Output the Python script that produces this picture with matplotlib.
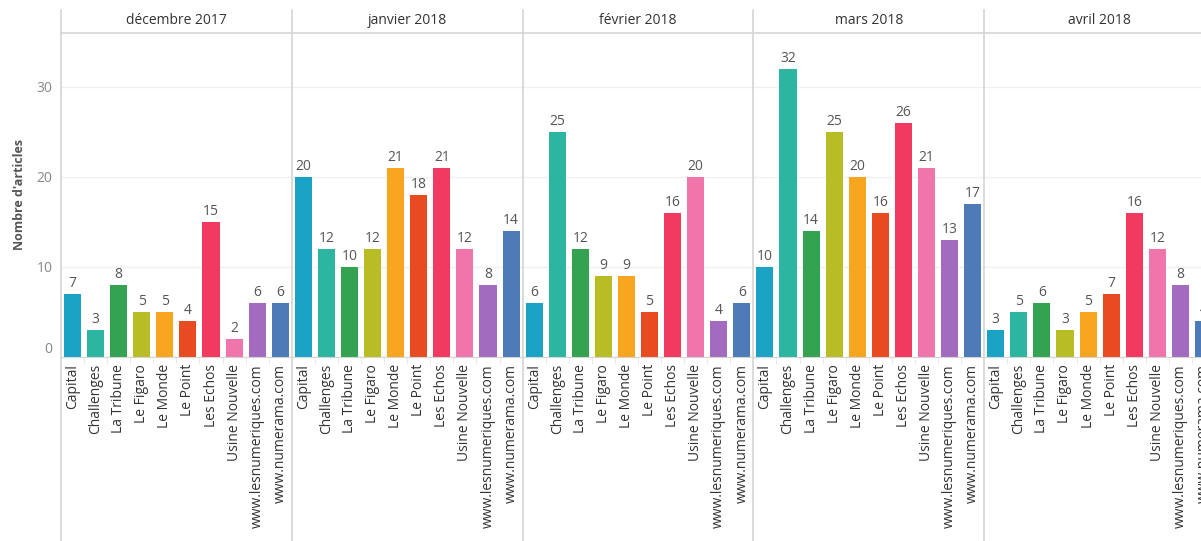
import numpy as np
import matplotlib
matplotlib.use('Agg')
import matplotlib.pyplot as plt
from matplotlib.lines import Line2D

plt.rcParams['font.family'] = ['Open Sans', 'DejaVu Sans']

# data
months = ['décembre 2017', 'janvier 2018', 'février 2018', 'mars 2018', 'avril 2018']
sources = ['Capital', 'Challenges', 'La Tribune', 'Le Figaro', 'Le Monde', 'Le Point',
           'Les Echos', 'Usine Nouvelle', 'www.lesnumeriques.com', 'www.numerama.com']
dec_2017 = [7, 3, 8, 5, 5, 4, 15, 2, 6, 6]
jan_2018 = [20, 12, 10, 12, 21, 18, 21, 12, 8, 14]
feb_2018 = [6, 25, 12, 9, 9, 5, 16, 20, 4, 6]
mar_2018 = [10, 32, 14, 25, 20, 16, 26, 21, 13, 17]
apr_2018 = [3, 5, 6, 3, 5, 7, 16, 12, 8, 4]
counts = [dec_2017, jan_2018, feb_2018, mar_2018, apr_2018]

colors = ['#1ba3c6', '#2cb5a0', '#33a352', '#b9bd25', '#f8a51f', '#e84a22',
          '#f2395f', '#f075ab', '#a36bbf', '#4c7bb8']

W, H = 1201, 541
fig = plt.figure(figsize=(W / 100, H / 100), dpi=100)

x0 = 61        # left edge of first panel (px)
pw = 230.8     # panel width (px)
y_zero = 357   # baseline (px from top)
y_top = 33     # header line (px from top)
grid_c = '#d4d4d4'

x = np.arange(len(sources))
axes = []
for i, (m, vals) in enumerate(zip(months, counts)):
    left = (x0 + i * pw) / W
    ax = fig.add_axes([left, (H - y_zero) / H, pw / W, (y_zero - y_top) / H])
    bars = ax.bar(x, vals, width=0.74, color=colors)
    ax.bar_label(bars, padding=2, fontsize=10, color='#555555')
    ax.set_xlim(-0.5, len(sources) - 0.5)
    ax.set_ylim(0, 36)
    ax.set_yticks([0, 10, 20, 30])
    ax.grid(axis='y', color='#f0f0f0', linewidth=1)
    ax.set_axisbelow(True)
    for s in ['top', 'right', 'left']:
        ax.spines[s].set_visible(False)
    ax.spines['bottom'].set_color(grid_c)
    ax.set_xticks(x)
    ax.set_xticklabels(sources, rotation=90, fontsize=10, color='#333333')
    ax.tick_params(axis='x', length=0, pad=5)
    ax.set_xticks(np.arange(0.5, len(sources) - 1, 1), minor=True)
    ax.tick_params(axis='x', which='minor', length=5, color='#e6e6e6')
    if i == 0:
        ax.tick_params(axis='y', length=0, labelsize=10, labelcolor='#888888', pad=6)
        ax.get_yticklabels()[0].set_verticalalignment('bottom')
        ax.set_ylabel("Nombre d'articles", fontsize=9, fontweight='bold',
                      color='#555555', labelpad=8)
    else:
        ax.tick_params(axis='y', length=0, labelleft=False)
    fig.text((x0 + (i + 0.5) * pw) / W, 1 - 21 / H, m, ha='center', va='center',
             fontsize=10, color='#333333')
    axes.append(ax)

# panel separators and header line
for i in range(len(months)):
    px = (x0 + i * pw) / W
    fig.add_artist(Line2D([px, px], [0, 1 - 10 / H], transform=fig.transFigure,
                          color=grid_c, linewidth=1.2))
fig.add_artist(Line2D([x0 / W, 1], [1 - y_top / H, 1 - y_top / H],
                      transform=fig.transFigure, color=grid_c, linewidth=1.2))

fig.savefig('out.png', dpi=100)
